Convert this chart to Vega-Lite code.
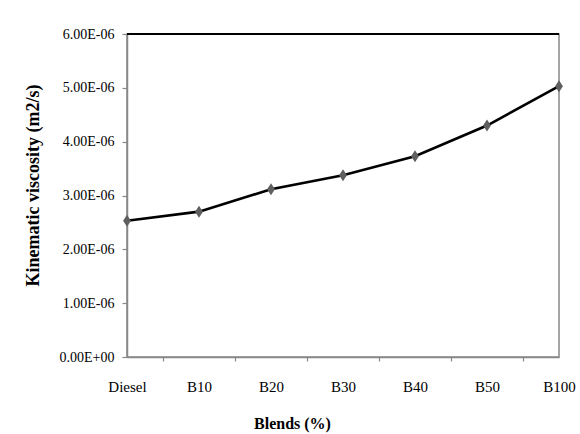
{
  "$schema": "https://vega.github.io/schema/vega-lite/v6.json",
  "width": 432,
  "height": 323,
  "autosize": {"type": "none"},
  "padding": {"left": 127, "top": 34, "right": 21, "bottom": 77},
  "background": "white",
  "config": {
    "view": {"stroke": "#888888", "strokeWidth": 1.5},
    "font": "Liberation Serif"
  },
  "data": {
    "values": [
      {"blend": "Diesel", "viscosity": 2.53e-6},
      {"blend": "B10", "viscosity": 2.70e-6},
      {"blend": "B20", "viscosity": 3.115e-6},
      {"blend": "B30", "viscosity": 3.375e-6},
      {"blend": "B40", "viscosity": 3.73e-6},
      {"blend": "B50", "viscosity": 4.30e-6},
      {"blend": "B100", "viscosity": 5.03e-6}
    ]
  },
  "encoding": {
    "x": {
      "field": "blend", "type": "nominal",
      "sort": ["Diesel", "B10", "B20", "B30", "B40", "B50", "B100"],
      "scale": {"type": "point", "padding": 0},
      "axis": {
        "title": "Blends (%)",
        "titleFont": "Liberation Serif", "titleFontSize": 16, "titleFontWeight": "bold", "titleColor": "black",
        "titleX": 165, "titleY": 66, "titleAlign": "center", "titleBaseline": "middle", "titleAnchor": null,
        "labelFont": "Liberation Serif", "labelFontSize": 15, "labelFontWeight": "normal", "labelColor": "black",
        "labelAngle": 0, "labelPadding": 18, "labelOffset": -36,
        "tickOffset": 36, "tickSize": 4, "tickColor": "#888888", "tickWidth": 1.2,
        "domainColor": "#888888", "domainWidth": 1.5, "grid": false
      }
    },
    "y": {
      "field": "viscosity", "type": "quantitative",
      "scale": {"domain": [0, 6e-6], "nice": false, "zero": true},
      "axis": {
        "title": "Kinematic viscosity (m2/s)",
        "titleFont": "Liberation Serif", "titleFontSize": 18, "titleFontWeight": "bold", "titleColor": "black",
        "titleAngle": -90, "titleX": -94, "titleY": 151, "titleAlign": "center", "titleBaseline": "middle", "titleAnchor": null,
        "values": [0, 1e-6, 2e-6, 3e-6, 4e-6, 5e-6, 6e-6],
        "labelExpr": "datum.value == 0 ? '0.00E+00' : format(datum.value * 1e6, '.2f') + 'E-06'",
        "labelFont": "Liberation Serif", "labelFontSize": 14, "labelFontWeight": "normal", "labelColor": "black", "labelPadding": 8,
        "tickSize": 5, "tickColor": "#888888", "tickWidth": 1.2,
        "domainColor": "#888888", "domainWidth": 1.5, "grid": false
      }
    }
  },
  "layer": [
    {
      "mark": {"type": "rule", "color": "black", "strokeWidth": 1.3},
      "encoding": {"x": null, "y": {"datum": 6e-6, "type": "quantitative"}}
    },
    {
      "mark": {"type": "line", "color": "black", "strokeWidth": 2.6}
    },
    {
      "mark": {"type": "point", "shape": "M0,-1.3L0.85,0L0,1.3L-0.85,0Z", "filled": true, "color": "#5f5f5f", "size": 85, "opacity": 1}
    }
  ]
}
